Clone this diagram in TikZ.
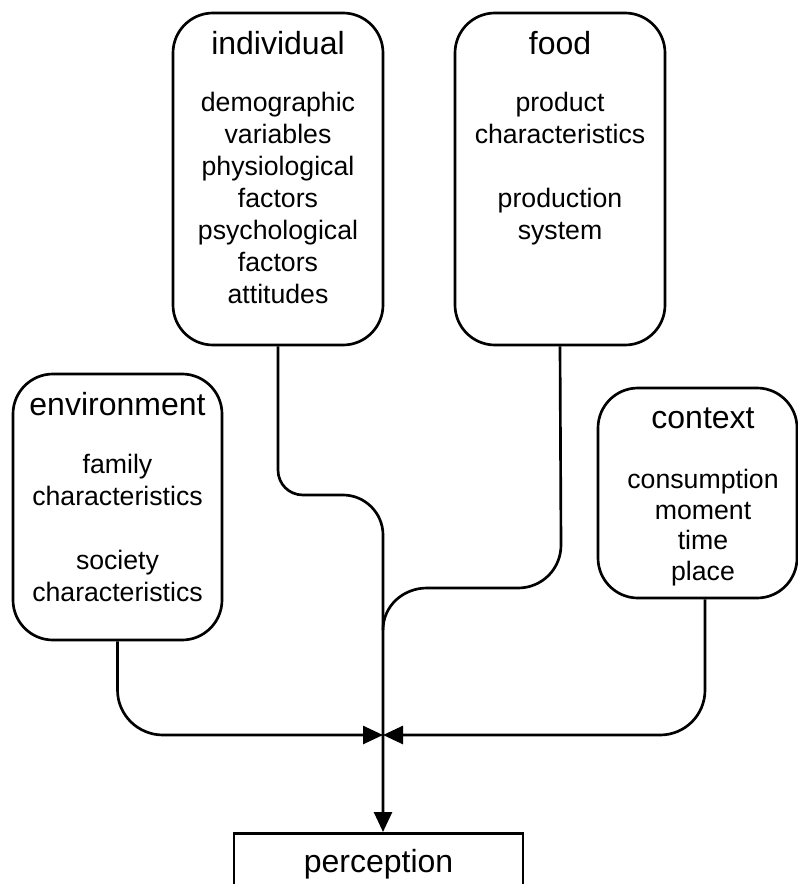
\documentclass[tikz,border=0pt]{standalone}
\usepackage{fontspec}
\setmainfont{Liberation Sans}
\usetikzlibrary{arrows.meta}
\begin{document}
\begin{tikzpicture}[x=0.75pt,y=-0.75pt,
  line width=2pt,
  factor/.style={draw, rounded corners=30pt, inner sep=0pt},
  heading/.style={font=\fontsize{24}{27.6}\selectfont, anchor=base, inner sep=0pt},
  items/.style={font=\fontsize{20}{24}\selectfont, align=center, anchor=north, inner sep=0pt},
  link/.style={line width=2pt},
  tip/.style={-{Triangle[length=15pt,width=13.5pt]}},
]
\useasboundingbox (0,0) rectangle (798,884);
\clip (0,0) rectangle (798,884);

% factor boxes
\node[factor, minimum width=157.5pt, minimum height=249pt] (ind) at (278,179) {};
\node[factor, minimum width=157.5pt, minimum height=249pt] (food) at (560,179) {};
\node[factor, minimum width=156.75pt, minimum height=199.5pt] (env) at (117.5,507) {};
\node[factor, minimum width=149.25pt, minimum height=157.5pt] (ctx) at (697.5,493) {};

% outcome box, running past the lower edge
\node[draw, minimum width=216.75pt, minimum height=90pt, anchor=north, inner sep=0pt] (perc) at (378.5,832) {};

% headings
\node[heading] (indT) at (278,55) {individual};
\node[heading] (foodT) at (560,55) {food};
\node[heading] (envT) at (117.5,415) {environment};
\node[heading] (ctxT) at (703,428) {context};
\node[heading] (percT) at (378.5,872) {perception};

% item lists
\node[items] (indL) at (278,91) {demographic\\variables\\physiological\\factors\\psychological\\factors\\attitudes};
\node[items] (foodL) at (560,91) {product\\characteristics\\[24pt]production\\system};
\node[items] (envL) at (117.5,453) {family\\characteristics\\[24pt]society\\characteristics};
\node[items, font=\fontsize{20}{23}\selectfont] (ctxL) at (703,468) {consumption\\moment\\time\\place};

% junction of the side branches
\coordinate (merge) at (383,735);

% trunk from the individual box down to perception
\draw[link, tip] (ind.south) -- (278,470)
  .. controls (278,484) and (289,495) .. (303,495) -- (343,495)
  .. controls (365,495) and (383,513) .. (383,535) -- (merge |- perc.north);

% food branch joining the trunk
\draw[link] (food.south) -- (561,545)
  .. controls (561,569) and (542,588) .. (518,588) -- (427,588)
  .. controls (403,588) and (383,606) .. (383,630);

% environment and context branches meeting at the junction
\draw[link, tip] (env.south) -- (117.5,690)
  .. controls (117.5,715) and (138,735) .. (163,735) -- (merge);
\draw[link, tip] ([xshift=5.6pt]ctx.south) -- (705,690)
  .. controls (705,715) and (685,735) .. (660,735) -- (merge);
\end{tikzpicture}
\end{document}
